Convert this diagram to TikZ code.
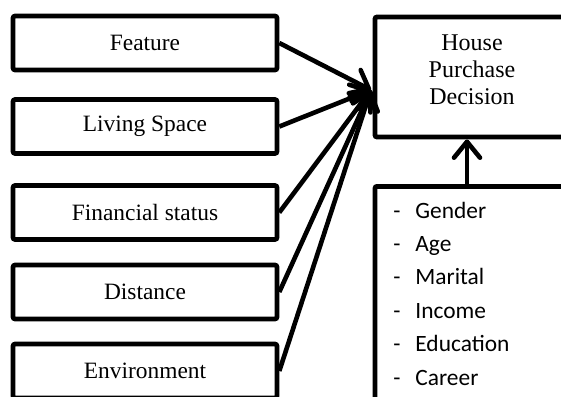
\documentclass[tikz,border=0pt]{standalone}
\usepackage{fontspec}
\setmainfont{Liberation Serif}
\newfontfamily\calibri{Carlito}
\usepackage{tikz}
\usetikzlibrary{arrows.meta}

\begin{document}
\begin{tikzpicture}[x=0.5pt,y=-0.5pt,
	factor/.style={draw,line width=2.3pt,rounded corners=1pt,minimum width=132pt,minimum height=27pt,inner sep=0pt,font=\rmfamily\fontsize{11.7}{13.5}\selectfont},
	bigbox/.style={draw,line width=2.4pt,rounded corners=1pt,minimum width=97pt,inner sep=0pt},
	arr/.style={line width=2.3pt,-{Straight Barb[length=8pt,width=13pt,round]}},
	item/.style={anchor=base west,inner sep=0pt,font=\calibri\fontsize{11.7}{14}\selectfont}]
	\useasboundingbox (0,0) rectangle (561,396);
	\clip (0,0) rectangle (561,396);
	\node[factor] (feature) at (145,43) {Feature};
	\node[factor] (living) at (145,126.5) {Living Space};
	\node[factor] (financial) at (145,212.5) {Financial status};
	\node[factor] (distance) at (145,292) {Distance};
	\node[factor] (environment) at (145,371) {Environment};
	\node[bigbox,minimum height=60pt] (decision) at (472,77) {};
	\node[align=center,inner sep=0pt,font=\rmfamily\fontsize{12}{13.5}\selectfont] (decisiontext) at ([yshift=3.5pt]decision.center) {House\\Purchase\\Decision};
	\node[bigbox,minimum height=120pt,anchor=north] (profile) at (472,184) {};
	\foreach \t [count=\i from 0] in {Gender,Age,Marital,Income,Education,Career}
		\node[item] (item\i) at (393,{218+33.4*\i}) {\makebox[11pt][l]{-}\t};
	\coordinate (meet) at (371,90);
	\foreach \n in {feature,living,financial,distance,environment}
		\draw[arr] (\n.east) -- (meet);
	\draw[arr] ([xshift=-2.5pt]profile.north) -- ([xshift=-2.5pt]decision.south);
\end{tikzpicture}
\end{document}
